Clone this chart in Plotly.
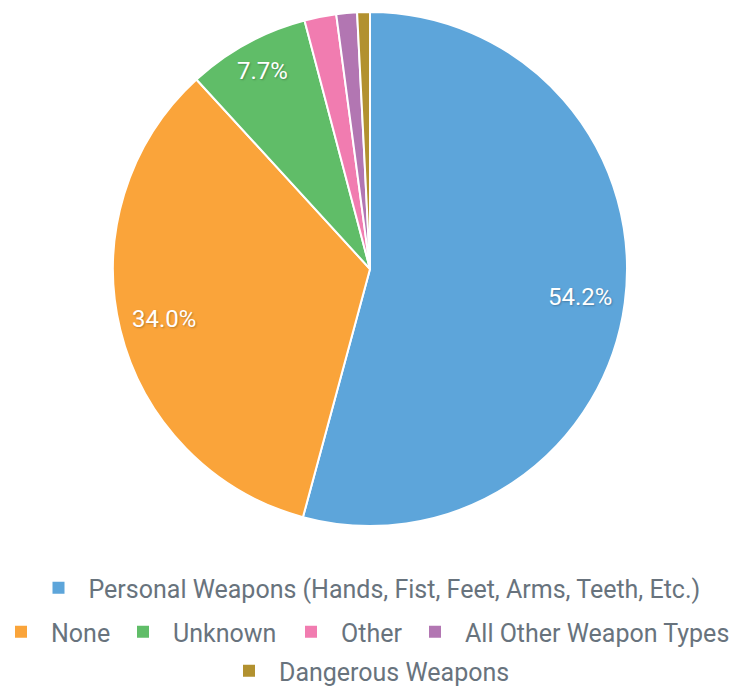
import math
import plotly.graph_objects as go

labels = [
    "Personal Weapons (Hands, Fist, Feet, Arms, Teeth, Etc.)",
    "None",
    "Unknown",
    "Other",
    "All Other Weapon Types",
    "Dangerous Weapons",
]
values = [54.2, 34.0, 7.7, 2.0, 1.3, 0.8]
colors = ["#5DA5DA", "#FAA43A", "#60BD68", "#F17CB0", "#B276B2", "#B2912F"]
min_label_pct = 5.0

# figure geometry (page has an 8px body margin, so the figure is offset)
W, H = 731, 680
CX, CY, R = 362, 261, 255          # pie centre / radius in figure pixels
LABEL_FS = 24

fig = go.Figure()
fig.add_trace(go.Pie(
    labels=labels,
    values=values,
    sort=False,
    direction="clockwise",
    rotation=0,
    marker=dict(colors=colors, line=dict(color="white", width=2)),
    textinfo="none",
    showlegend=False,
    hoverinfo="label+percent",
    domain=dict(x=[(CX - R - 2) / W, (CX + R + 2) / W],
                y=[1 - (CY + R + 2) / H, 1 - (CY - R - 2) / H]),
))

# percentage labels placed near the rim of each slice
total = sum(values)
cum = 0.0
for v in values:
    frac = v / total
    mid = (cum + frac / 2) * 2 * math.pi
    cum += frac
    if v < min_label_pct:
        continue
    txt = f"{100 * frac:.1f}%"
    ux, uy = math.sin(mid), -math.cos(mid)
    hw = len(txt) * 0.53 * LABEL_FS / 2
    hh = 0.72 * LABEL_FS / 2
    r_lab = R - 10 - (hw * abs(ux) + hh * abs(uy))
    px, py = CX + r_lab * ux, CY + r_lab * uy
    fig.add_annotation(
        x=px / W, y=1 - py / H, xref="paper", yref="paper",
        text=txt, showarrow=False, xanchor="center", yanchor="middle",
        font=dict(family="Roboto", size=LABEL_FS, color="white",
                  shadow="1px 1px 2px rgba(0,0,0,0.25)"),
    )

# legend layout: one legend per row, the second row split per entry
legend_ids = ["legend", "legend2", "legend3", "legend4", "legend5", "legend6"]
legend_font = dict(family="Roboto", size=25, color="#68737d")
base = dict(orientation="h", yanchor="middle", font=legend_font,
            bgcolor="rgba(0,0,0,0)", itemclick=False, itemwidth=50)
legend_cfg = {
    "legend": dict(x=359 / W, xanchor="center", y=1 - 580 / H),
    "legend2": dict(x=(13 - 30) / W, xanchor="left", y=1 - 624 / H),
    "legend3": dict(x=(135 - 30) / W, xanchor="left", y=1 - 624 / H),
    "legend4": dict(x=(303 - 30) / W, xanchor="left", y=1 - 624 / H),
    "legend5": dict(x=(427 - 30) / W, xanchor="left", y=1 - 624 / H),
    "legend6": dict(x=359 / W, xanchor="center", y=1 - 663 / H),
}

for lab, col, lg in zip(labels, colors, legend_ids):
    fig.add_trace(go.Scatter(
        x=[None], y=[None], mode="markers", name=lab,
        marker=dict(symbol="square", size=12, color=col),
        legend=lg, showlegend=True,
    ))

fig.update_layout(
    width=W, height=H,
    margin=dict(l=0, r=0, t=0, b=0, autoexpand=False),
    paper_bgcolor="white", plot_bgcolor="white",
    xaxis=dict(visible=False), yaxis=dict(visible=False),
    **{k: dict(**base, **v) for k, v in legend_cfg.items()},
)

fig.write_html("out.html")
